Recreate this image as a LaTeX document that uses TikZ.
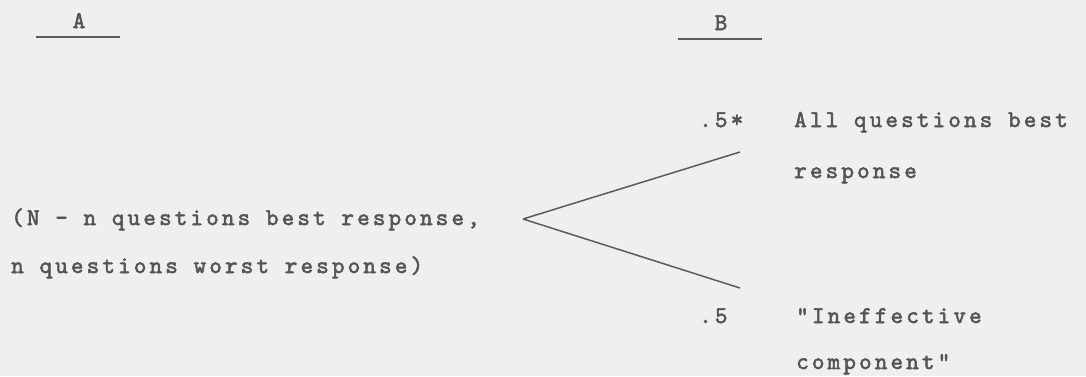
\documentclass[tikz,border=0pt]{standalone}
\usepackage{fontspec}
\usepackage{tikz}
\usetikzlibrary{positioning,calc}
\newfontfamily\typew{lmmono10-regular.otf}[LetterSpace=13,FakeBold=2.2]
\definecolor{scanPaper}{HTML}{EFEFEF}
\definecolor{scanInk}{HTML}{555555}
\definecolor{scanLine}{HTML}{5C5C5C}

\begin{document}
\begin{tikzpicture}[x=1pt,y=1pt,
    txt/.style={inner sep=0pt,anchor=base west,text=scanInk,
                font=\typew\fontsize{24}{48}\selectfont},
    head/.style={inner sep=0pt,anchor=base,text=scanInk,
                 font=\typew\fontsize{24}{48}\selectfont},
    branch/.style={draw=scanLine,line width=1.5pt}]
  \fill[scanPaper] (0,0) rectangle (1086,376);
  \useasboundingbox (0,0) rectangle (1086,376);

  % column headings
  \node[head] (colA) at (79,348) {A};
  \node[head] (colB) at (721,346) {B};
  \draw[branch,line width=1.2pt] (36,339) -- (120,339);
  \draw[branch,line width=1.2pt] (678,337) -- (762,337);

  % state in column A
  \node[txt] (stateA1) at (11,151) {(N - n questions best response,};
  \node[txt] (stateA2) at ([yshift=-48pt]stateA1.base west)
        {n questions worst response)};

  % branches
  \coordinate (fork) at (523,157);
  \coordinate (upEnd) at (740,224);
  \coordinate (lowEnd) at (740,88);
  \draw[branch] (fork) -- (upEnd);
  \draw[branch] (fork) -- (lowEnd);

  % outcomes in column B
  \node[txt] (probUp) at (699,249) {.5*};
  \node[txt] (bestB1) at (794,249) {All questions best};
  \node[txt] (bestB2) at ([yshift=-51pt]bestB1.base west) {response};
  \node[txt] (probLow) at (699,53) {.5};
  \node[txt] (ineffB1) at (796,53) {"Ineffective};
  \node[txt] (ineffB2) at ([yshift=-46pt]ineffB1.base west) {component"};
\end{tikzpicture}
\end{document}
